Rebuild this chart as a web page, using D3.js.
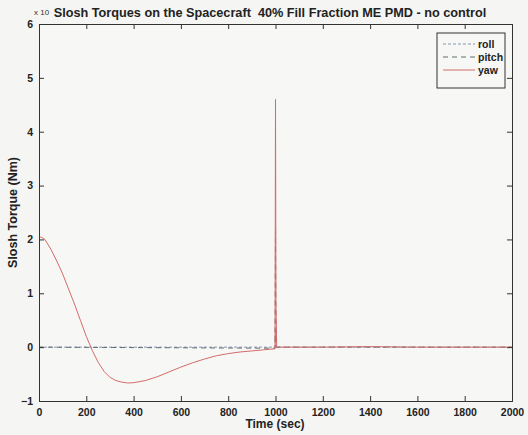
<!DOCTYPE html>
<html>
<head>
<meta charset="utf-8">
<script src="https://cdn.jsdelivr.net/npm/d3@7"></script>
<style>
  html, body { margin: 0; padding: 0; background: #f5f5f3; }
  svg { display: block; font-family: "Liberation Sans", Arial, sans-serif; }
</style>
</head>
<body>
<svg id="chart" width="528" height="435"></svg>
<script>
// Slosh torque histories (units of 1e-? Nm, per the axis multiplier)
const yawTime = [0, 10, 25, 50, 75, 100, 125, 150, 175, 200, 225, 250, 275, 300, 325, 350, 375, 400,
  450, 500, 550, 600, 650, 700, 750, 800, 850, 900, 950, 998, 1000, 1002, 1005,
  1100, 1200, 1300, 1400, 1500, 1600, 1700, 1800, 1900, 2000];
const yawTorque = [2.05, 2.04, 2.0, 1.82, 1.6, 1.36, 1.08, 0.8, 0.5, 0.2, -0.06, -0.28, -0.45, -0.56, -0.62, -0.65, -0.665, -0.66,
  -0.62, -0.55, -0.46, -0.37, -0.29, -0.22, -0.16, -0.12, -0.09, -0.07, -0.05, -0.03, 4.6, 0.8, 0.0,
  0.0, 0.0, 0.005, 0.01, 0.005, 0.0, 0.0, 0.0, 0.0, 0.0];
const rollTime = [0, 998, 1000, 1002, 2000];
const rollTorque = [0, 0, 0.3, 0, 0];
const pitchTime = [0, 998, 1000, 1002, 2000];
const pitchTorque = [0, -0.02, 2.15, 0, 0];

const seriesNames = ["roll", "pitch", "yaw"];
const xTicks = [0, 200, 400, 600, 800, 1000, 1200, 1400, 1600, 1800, 2000];
const yTicks = [-1, 0, 1, 2, 3, 4, 5, 6];
const titleText = "Slosh Torques on the Spacecraft  40% Fill Fraction ME PMD - no control";
const xLabelText = "Time (sec)";
const yLabelText = "Slosh Torque (Nm)";

const svg = d3.select("#chart");
const margin = { left: 39, right: 16, top: 24, bottom: 34 };
const W = 528, H = 435;
const x = d3.scaleLinear().domain([0, 2000]).range([margin.left, W - margin.right]);
const y = d3.scaleLinear().domain([-1, 6]).range([H - margin.bottom, margin.top]);

// plot area
svg.append("rect")
  .attr("x", x(0)).attr("y", y(6))
  .attr("width", x(2000) - x(0)).attr("height", y(-1) - y(6))
  .attr("fill", "#f7f7f5");

const styles = {
  roll: { color: "#8a93b4", dash: "3,2" },
  pitch: { color: "#5f7070", dash: "5,4" },
  yaw: { color: "#d46c6a", dash: null }
};

const line = d3.line().x(d => x(d[0])).y(d => y(d[1]));
const seriesData = {
  roll: d3.zip(rollTime, rollTorque),
  pitch: d3.zip(pitchTime, pitchTorque),
  yaw: d3.zip(yawTime, yawTorque)
};

seriesNames.forEach(name => {
  svg.append("path")
    .datum(seriesData[name])
    .attr("fill", "none")
    .attr("stroke", styles[name].color)
    .attr("stroke-width", 1)
    .attr("stroke-dasharray", styles[name].dash)
    .attr("d", line);
});

// axes with inward ticks on all four sides
const tickLen = 5;
const axisColor = "#333";

const axisBottomG = svg.append("g").attr("transform", `translate(0,${y(-1)})`)
  .call(d3.axisBottom(x).tickValues(xTicks).tickSize(-tickLen).tickPadding(8).tickFormat(d3.format("d")));
const axisTopG = svg.append("g").attr("transform", `translate(0,${y(6)})`)
  .call(d3.axisTop(x).tickValues(xTicks).tickSize(-tickLen).tickFormat(""));
const axisLeftG = svg.append("g").attr("transform", `translate(${x(0)},0)`)
  .call(d3.axisLeft(y).tickValues(yTicks).tickSize(-tickLen).tickPadding(6).tickFormat(d3.format("d")));
const axisRightG = svg.append("g").attr("transform", `translate(${x(2000)},0)`)
  .call(d3.axisRight(y).tickValues(yTicks).tickSize(-tickLen).tickFormat(""));

[axisBottomG, axisTopG, axisLeftG, axisRightG].forEach(g => {
  g.select(".domain").attr("stroke", axisColor).attr("stroke-width", 1);
  g.selectAll(".tick line").attr("stroke", axisColor);
  g.selectAll(".tick text")
    .attr("fill", "#222")
    .style("font-size", "10.5px")
    .style("font-weight", "bold")
    .style("font-family", "'Liberation Sans', Arial, sans-serif");
});

// exponent marker
svg.append("text")
  .attr("x", 34).attr("y", 15)
  .style("font-size", "8px").attr("fill", "#333")
  .text("x 10");

// title
svg.append("text")
  .attr("x", 270).attr("y", 17)
  .attr("text-anchor", "middle")
  .style("white-space", "pre")
  .style("font-size", "12.7px").style("font-weight", "bold").attr("fill", "#222")
  .text(titleText);

// axis labels
svg.append("text")
  .attr("x", 275).attr("y", 428)
  .attr("text-anchor", "middle")
  .style("font-size", "12px").style("font-weight", "bold").attr("fill", "#222")
  .text(xLabelText);

svg.append("text")
  .attr("transform", `translate(17,${(y(6) + y(-1)) / 2}) rotate(-90)`)
  .attr("text-anchor", "middle")
  .style("font-size", "12.5px").style("font-weight", "bold").attr("fill", "#222")
  .text(yLabelText);

// legend
const lg = svg.append("g").attr("transform", "translate(437,33)");
lg.append("rect").attr("width", 68).attr("height", 55)
  .attr("fill", "#f7f7f5").attr("stroke", "#333").attr("stroke-width", 1);
seriesNames.forEach((name, i) => {
  const yy = 11 + i * 13;
  lg.append("line")
    .attr("x1", 6).attr("x2", 38).attr("y1", yy).attr("y2", yy)
    .attr("stroke", styles[name].color)
    .attr("stroke-dasharray", styles[name].dash);
  lg.append("text")
    .attr("x", 41).attr("y", yy + 3.5)
    .style("font-size", "10.5px").style("font-weight", "bold").attr("fill", "#222")
    .text(name);
});
</script>
</body>
</html>
